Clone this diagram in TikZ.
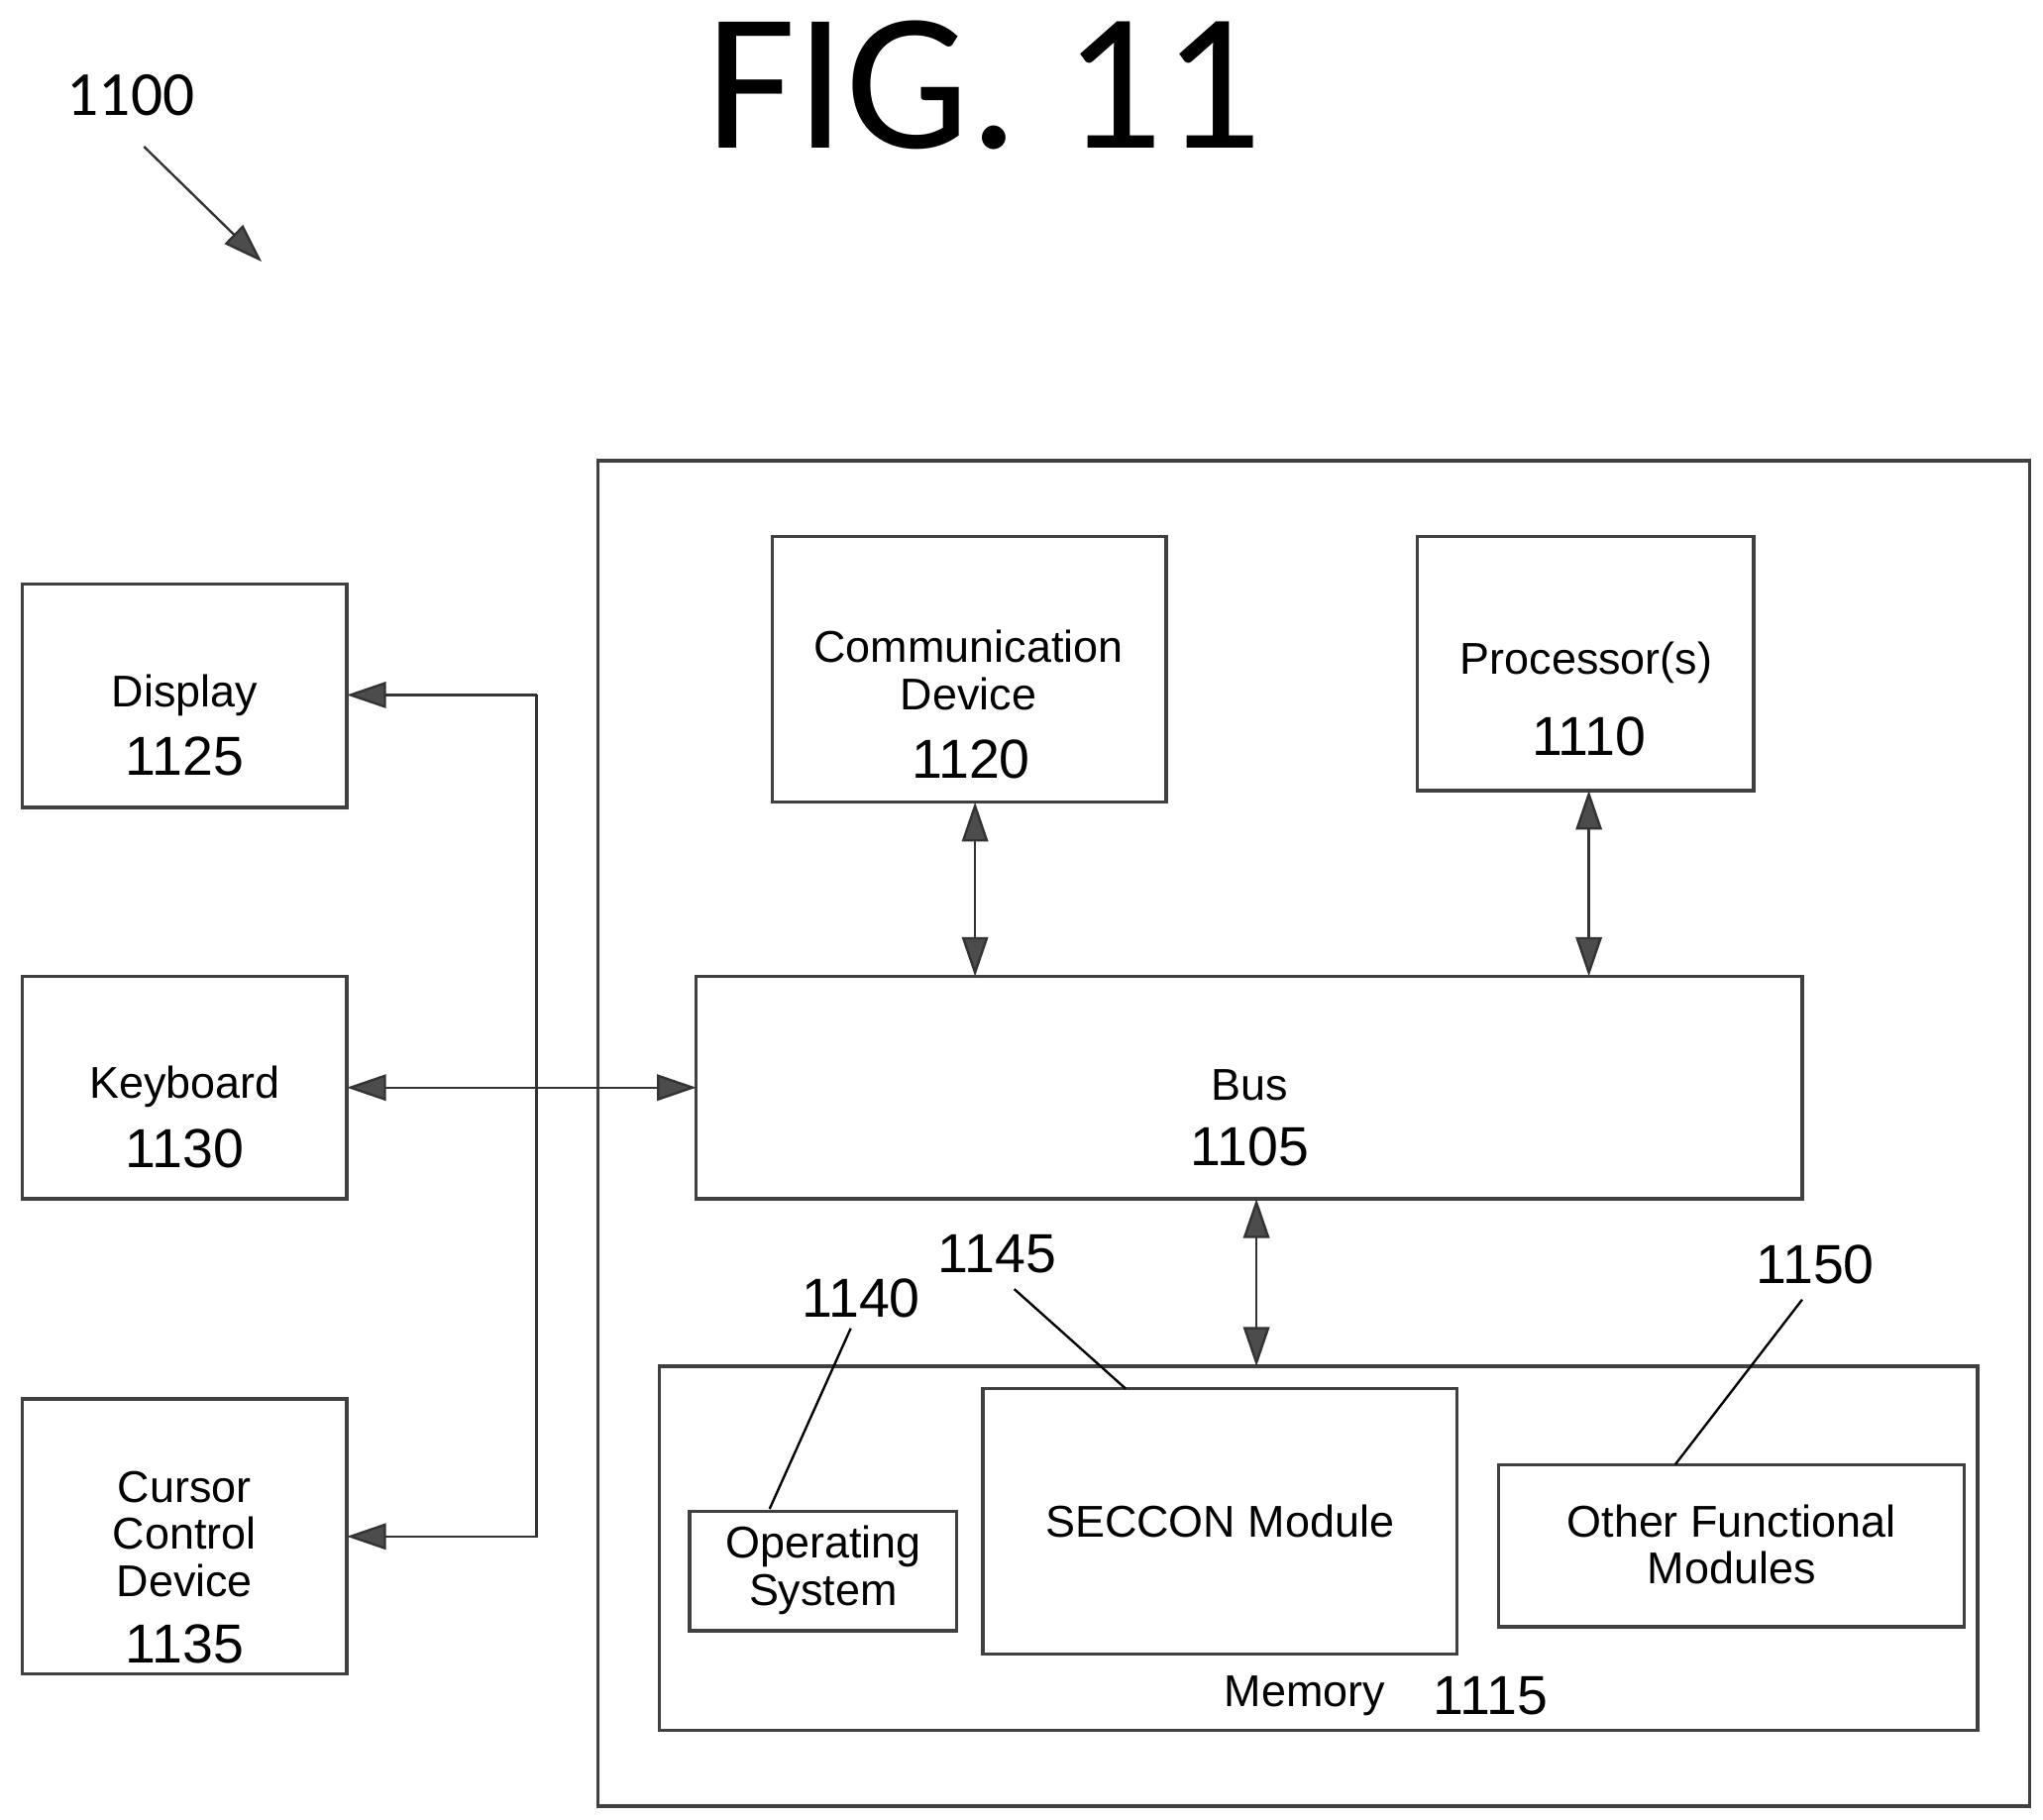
\documentclass[tikz,border=0pt]{standalone}
\usepackage{fontspec}
\setmainfont{Liberation Sans}
\newfontfamily\calib{Carlito}
\usetikzlibrary{arrows.meta}
\begin{document}
\begin{tikzpicture}[x=1pt,y=-1pt,
  box/.style={draw=black!75,line width=2.5pt},
  lbl/.style={font=\fontsize{34}{40}\selectfont,align=center},
  num/.style={font=\fontsize{42}{46}\selectfont},
  conn/.style={draw=black!80,line width=1.8pt,{Triangle[length=30pt,width=20pt,fill=black!70]}-{Triangle[length=30pt,width=20pt,fill=black!70]}},
  one/.style={draw=black!80,line width=1.8pt,-{Triangle[length=30pt,width=20pt,fill=black!70]}},
  lead/.style={draw=black,line width=1.8pt}]
\useasboundingbox (0,0) rectangle (1561,1390);
\node[font=\calib\fontsize{150}{150}\selectfont] (fig) at (752,65) {FIG. 11};
\node[font=\calib\fontsize{48}{50}\selectfont] (l1100) at (100,73) {1100};
\coordinate (a1) at (110,112); \coordinate (a2) at (200,200);
\draw[one] (a1) -- (a2);
\draw[box] (457,352) rectangle (1551,1380);
\draw[box] (17,446) rectangle (265,617);
\node[lbl] (disp) at (141,531) {Display};
\node[num] at (141,578) {1125};
\draw[box] (17,746) rectangle (265,916);
\node[lbl] at (141,830) {Keyboard};
\node[num] at (141,878) {1130};
\draw[box] (17,1069) rectangle (265,1279);
\node[lbl] at (141,1172) {Cursor\\[-4pt]Control\\[-4pt]Device};
\node[num] at (141,1256) {1135};
\draw[box] (590,410) rectangle (891,613);
\node[lbl] at (740,512) {Communication\\[-4pt]Device};
\node[num] at (742,580) {1120};
\draw[box] (1083,410) rectangle (1340,604);
\node[lbl] at (1212,506) {Processor(s)};
\node[num] at (1214,563) {1110};
\draw[box] (532,746) rectangle (1377,916);
\node[lbl] at (955,829) {Bus};
\node[num] at (955,876) {1105};
\draw[box] (504,1044) rectangle (1511,1322);
\node[lbl] at (997,1296) {Memory};
\node[num] at (1139,1296) {1115};
\draw[box] (527,1155) rectangle (731,1246);
\node[lbl] at (629,1200) {Operating\\[-4pt]System};
\draw[box] (751,1061) rectangle (1113,1264);
\node[lbl] at (932,1162) {SECCON Module};
\draw[box] (1145,1119) rectangle (1501,1243);
\node[lbl] at (1323,1180) {Other Functional\\[-4pt]Modules};
% connectors
\draw[one] (410,531) -- (265,531);
\draw[one] (410,531) -- (410,1174) -- (265,1174);
\draw[conn] (265,831) -- (532,831);
\draw[conn] (745,613) -- (745,746);
\draw[conn] (1214,604) -- (1214,746);
\draw[conn] (960,916) -- (960,1044);
% leaders
\node[num] at (658,992) {1140};
\draw[lead] (650,1015) -- (588,1153);
\node[num] at (762,958) {1145};
\draw[lead] (775,985) -- (860,1061);
\node[num] at (1387,966) {1150};
\draw[lead] (1377,993) -- (1280,1119);
\end{tikzpicture}
\end{document}
